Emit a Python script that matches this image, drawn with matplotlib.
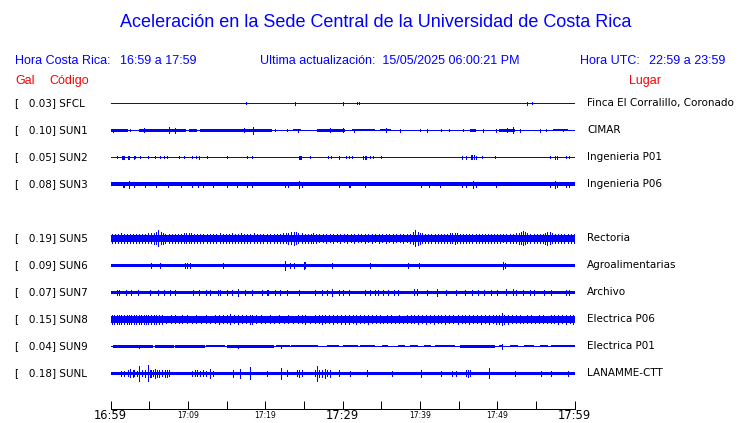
#!/usr/bin/env python
"""
Acceleration traces for the UCR Sede Central stations (one hour window).
"""

import matplotlib

matplotlib.use("Agg")
import matplotlib.pyplot as plt

W, H = 740, 423
BLUE = "#0000ff"
RED = "#ff0000"
ROW_PX = 27  # pixels between two station rows

TITLE = "Aceleración en la Sede Central de la Universidad de Costa Rica"
HORA_CR = "16:59 a 17:59"
HORA_UTC = "22:59 a 23:59"
ACTUALIZADO = "15/05/2025 06:00:21 PM"

# stations, top to bottom; slot 4 stays empty
CODES = ["SFCL", "SUN1", "SUN2", "SUN3", "SUN5", "SUN6", "SUN7", "SUN8", "SUN9", "SUNL"]
SLOTS = [0, 1, 2, 3, 5, 6, 7, 8, 9, 10]
GAL = [0.03, 0.10, 0.05, 0.08, 0.19, 0.09, 0.07, 0.15, 0.04, 0.18]
PLACES = [
    "Finca El Corralillo, Coronado",
    "CIMAR",
    "Ingenieria P01",
    "Ingenieria P06",
    "Rectoria",
    "Agroalimentarias",
    "Archivo",
    "Electrica P06",
    "Electrica P01",
    "LANAMME-CTT",
]

TICK_MIN = [0, 5, 10, 15, 20, 25, 30, 35, 40, 45, 50, 55, 60]
TICK_LABELS = ["16:59", "", "17:09", "", "17:19", "", "17:29", "", "17:39", "", "17:49", "", "17:59"]
TICK_BIG = [True, False, False, False, False, False, True, False, False, False, False, False, True]

# envelope of each trace: (start min, end min, half width px)
BODY = {
    "SFCL": [(0, 60, 0.5)],
    "SUN1": [
        (0, 2.2, 1.5), (2.2, 3.7, 0.5), (3.7, 9.8, 1.5), (9.8, 10.2, 0.5),
        (10.2, 11.2, 1.3), (11.2, 11.6, 0.5), (11.6, 20.9, 1.4), (20.9, 23.6, 0.5),
        (23.6, 24.6, 1.1), (24.6, 26.7, 0.5), (26.7, 30.3, 1.3), (30.3, 31.2, 0.5),
        (31.2, 34.2, 1.2), (34.2, 34.8, 0.5), (34.8, 36.3, 1.2), (36.3, 46.5, 0.5),
        (46.5, 47.3, 1.3), (47.3, 50.3, 0.5), (50.3, 52.3, 1.5), (52.3, 57.2, 0.5),
        (57.2, 59.1, 1.2), (59.1, 60, 0.5),
    ],
    "SUN2": [(0, 60, 0.5)],
    "SUN3": [(0, 60, 1.8)],
    "SUN5": [(0, 60, 3.8)],
    "SUN6": [(0, 60, 1.7)],
    "SUN7": [(0, 60, 1.8)],
    "SUN8": [(0, 60, 3.2)],
    "SUN9": [
        (0, 60, 0.5), (0.3, 5.5, 1.2), (5.7, 8.2, 1.2), (8.4, 12.2, 1.2),
        (12.4, 14.8, 1.1), (15.0, 21.2, 1.2), (21.4, 23.2, 1.1), (23.4, 26.8, 1.1),
        (28.0, 29.5, 1.1), (30.1, 32.0, 1.1), (32.3, 34.2, 1.1), (35.1, 35.9, 1.1),
        (37.2, 38.1, 1.1), (38.7, 39.8, 1.1), (40.6, 41.5, 1.1), (41.9, 44.5, 1.1),
        (45.2, 49.7, 1.2), (50.3, 50.8, 1.1), (51.6, 52.7, 1.1), (53.5, 54.8, 1.1),
        (55.5, 56.6, 1.1), (57.0, 60, 1.1),
    ],
    "SUNL": [(0, 60, 1.8)],
}

# isolated peaks: (minute, half height px)
PEAKS = {
    "SFCL": [(17.5, 1.0), (23.9, 1.5), (30.1, 1.5), (31.9, 1.2), (32.1, 1.2), (53.8, 1.5), (54.5, 1.0)],
    "SUN1": [
        (0.3, 1.6), (2.5, 1.2), (4.3, 2.0), (7.5, 3.0), (8.3, 2.5), (17.3, 2.0),
        (18.4, 3.3), (21.3, 1.2), (22.8, 1.2), (24.3, 1.5), (28.4, 2.0), (30.0, 2.0),
        (31.5, 1.5), (35.6, 2.0), (37.4, 1.5), (40.0, 1.2), (40.9, 1.4), (42.8, 1.2),
        (43.8, 1.2), (45.6, 1.2), (48.2, 1.4), (49.8, 1.4), (51.3, 2.0), (52.0, 3.0),
        (53.0, 1.4), (55.5, 1.4), (56.3, 1.2), (58.5, 1.2),
    ],
    "SUN2": [
        (0.86, 1.2), (1.5, 1.6), (1.6, 1.6), (1.7, 1.6), (2.3, 1.3), (2.45, 1.3),
        (3.0, 1.3), (3.2, 1.2), (3.8, 1.2), (4.8, 1.2), (5.7, 1.2), (6.45, 1.2),
        (6.9, 1.2), (7.3, 1.2), (8.9, 1.2), (9.5, 1.2), (10.5, 1.2), (11.0, 1.2),
        (11.5, 1.3), (12.5, 1.2), (15.0, 1.2), (17.6, 1.2), (18.3, 1.2), (24.4, 1.6),
        (24.5, 1.6), (24.6, 1.6), (25.8, 1.2), (28.1, 1.2), (28.5, 1.2), (29.5, 1.3),
        (30.5, 1.2), (30.9, 1.2), (31.2, 1.2), (32.7, 1.3), (32.9, 1.5), (33.1, 1.3),
        (33.5, 1.2), (34.0, 1.2), (35.0, 1.2), (45.5, 1.3), (46.0, 1.3), (46.6, 1.8),
        (46.8, 2.0), (47.0, 1.8), (47.3, 1.3), (48.0, 1.2), (49.7, 1.2), (56.8, 1.2),
        (57.5, 1.6), (57.7, 1.6), (58.9, 1.2), (59.3, 1.2),
    ],
    "SUN3": [
        (1.6, 2.6), (1.7, 2.6), (2.45, 3.3), (3.0, 2.6), (4.5, 2.4), (5.9, 2.4),
        (7.4, 2.4), (9.1, 2.4), (10.5, 2.4), (11.3, 2.4), (12.0, 2.4), (13.3, 2.3),
        (15.0, 2.3), (16.3, 2.4), (17.6, 2.6), (18.3, 2.6), (22.6, 2.3), (22.9, 2.3),
        (24.4, 3.5), (24.7, 2.6), (29.6, 2.4), (30.8, 2.6), (31.0, 2.6), (32.9, 2.4),
        (40.1, 2.3), (41.2, 2.3), (42.6, 2.3), (45.5, 2.4), (46.0, 2.4), (46.9, 3.3),
        (47.2, 2.7), (49.8, 2.4), (56.8, 2.4), (57.5, 3.3), (57.8, 2.6), (58.9, 2.4),
        (59.3, 2.4),
    ],
    "SUN5": [
        (0.2, 4.3), (0.6, 4.6), (1.0, 4.2), (1.3, 4.8), (1.7, 4.4), (2.1, 4.2),
        (2.5, 4.6), (2.9, 4.3), (3.3, 4.5), (3.7, 4.2), (4.1, 4.6), (4.5, 4.4),
        (4.9, 4.8), (5.3, 5.2), (5.6, 5.6), (5.9, 6.0), (6.2, 8.0), (6.5, 6.0),
        (6.8, 5.5), (7.1, 4.6), (7.5, 4.4), (7.9, 4.3), (8.3, 4.5), (8.7, 4.6),
        (9.1, 4.3), (9.5, 4.8), (9.8, 5.0), (10.1, 5.2), (10.4, 5.0), (10.8, 4.6),
        (11.2, 4.4), (11.6, 4.2), (12.0, 4.3), (12.5, 4.5), (12.9, 4.2), (13.3, 4.4),
        (13.7, 4.6), (14.1, 4.8), (14.5, 4.6), (14.9, 4.4), (15.3, 4.7), (15.7, 5.0),
        (16.1, 4.6), (16.5, 4.4), (16.9, 4.8), (17.3, 4.5), (17.7, 4.6), (18.1, 4.4),
        (18.5, 4.8), (18.9, 4.5), (19.3, 4.3), (19.7, 4.2), (20.2, 4.4), (20.6, 4.2),
        (21.1, 4.3), (21.5, 4.2), (21.9, 4.4), (22.3, 4.8), (22.7, 5.2), (23.0, 5.6),
        (23.4, 6.0), (23.7, 6.5), (24.0, 5.8), (24.3, 5.2), (24.7, 4.8), (25.1, 4.4),
        (25.5, 4.2), (25.9, 4.6), (26.2, 5.0), (26.6, 4.2), (27.0, 3.9), (27.5, 4.0),
        (27.9, 4.2), (28.4, 3.9), (28.8, 4.3), (29.3, 4.0), (29.7, 4.2), (30.2, 3.9),
        (30.6, 4.4), (31.1, 4.0), (31.5, 4.2), (32.0, 3.9), (32.4, 4.1), (32.9, 4.3),
        (33.3, 3.9), (33.8, 4.2), (34.2, 4.0), (34.7, 4.4), (35.1, 3.9), (35.6, 4.2),
        (36.0, 4.0), (36.5, 4.3), (36.9, 3.9), (37.4, 4.1), (37.8, 4.3), (38.3, 4.0),
        (38.7, 4.6), (39.1, 6.0), (39.4, 8.0), (39.7, 6.5), (40.0, 5.5), (40.3, 4.8),
        (40.7, 4.3), (41.1, 4.5), (41.5, 4.3), (41.9, 4.2), (42.3, 4.4), (42.7, 4.2),
        (43.1, 4.3), (43.5, 4.5), (43.9, 4.8), (44.2, 5.2), (44.5, 5.5), (44.8, 5.0),
        (45.2, 4.4), (45.6, 4.3), (46.0, 4.2), (46.4, 4.4), (46.8, 4.3), (47.2, 4.5),
        (47.6, 4.3), (48.0, 4.4), (48.4, 4.6), (48.8, 4.3), (49.2, 4.2), (49.6, 4.4),
        (50.0, 4.2), (50.4, 4.3), (50.8, 4.1), (51.2, 4.3), (51.6, 4.2), (52.0, 4.4),
        (52.4, 4.8), (52.8, 5.5), (53.1, 6.2), (53.3, 7.0), (53.6, 6.0), (53.9, 5.0),
        (54.3, 4.4), (54.7, 4.2), (55.1, 4.3), (55.5, 4.2), (55.9, 4.6), (56.2, 5.5),
        (56.5, 6.5), (56.8, 6.0), (57.1, 5.0), (57.5, 4.4), (57.9, 4.2), (58.3, 4.3),
        (58.7, 4.2), (59.1, 4.4), (59.5, 4.2), (59.9, 4.3),
    ],
    "SUN6": [
        (5.3, 2.5), (6.45, 2.4), (9.6, 2.4), (9.9, 2.6), (10.3, 2.4), (14.6, 2.3),
        (22.6, 4.5), (23.2, 2.5), (23.7, 2.5), (25.0, 3.5), (25.2, 3.0), (28.7, 2.2),
        (33.5, 2.2), (38.5, 2.6), (39.9, 2.6), (50.8, 3.5), (51.0, 2.8),
    ],
    "SUN7": [
        (0.86, 2.8), (1.1, 2.8), (2.0, 2.6), (2.7, 2.6), (3.6, 2.6), (5.1, 2.8),
        (6.2, 2.6), (6.9, 2.6), (7.7, 2.6), (8.4, 2.6), (10.7, 2.6), (11.4, 2.6),
        (12.3, 2.6), (12.9, 2.6), (13.9, 2.8), (14.2, 2.8), (15.1, 2.6), (15.7, 2.6),
        (16.5, 3.3), (17.4, 2.6), (18.3, 2.6), (19.6, 2.6), (20.2, 2.8), (20.4, 2.6),
        (21.3, 2.6), (21.9, 2.6), (22.8, 2.6), (24.4, 2.6), (26.5, 2.8), (27.3, 2.6),
        (28.0, 2.8), (28.7, 3.5), (29.5, 2.6), (30.1, 2.6), (30.8, 2.6), (32.9, 2.6),
        (33.5, 2.8), (34.2, 2.8), (34.6, 2.6), (35.3, 2.8), (35.9, 2.6), (36.6, 2.6),
        (37.2, 2.6), (39.2, 3.0), (39.6, 3.0), (40.9, 2.6), (42.2, 3.3), (43.4, 2.6),
        (44.7, 2.6), (45.8, 2.6), (46.7, 2.6), (47.5, 2.6), (48.3, 2.6), (49.2, 2.6),
        (50.0, 2.6), (51.2, 3.0), (52.0, 3.0), (52.4, 2.8), (53.3, 2.6), (54.2, 2.6),
        (54.8, 2.6), (56.1, 2.6), (57.0, 2.6), (58.9, 2.8), (59.3, 2.6),
    ],
    "SUN8": [
        (0.2, 4.2), (0.5, 4.6), (0.8, 4.3), (1.1, 4.8), (1.4, 4.4), (1.8, 4.5),
        (2.1, 4.2), (2.4, 4.7), (2.7, 4.4), (3.0, 4.3), (3.3, 4.6), (3.7, 4.8),
        (4.0, 4.3), (4.3, 4.5), (4.6, 4.2), (4.9, 4.8), (5.3, 4.4), (5.6, 4.3),
        (5.9, 4.5), (6.3, 4.2), (6.7, 4.4), (7.2, 3.8), (7.8, 3.9), (8.3, 4.0),
        (8.8, 3.8), (9.3, 3.9), (9.9, 4.0), (10.5, 3.8), (11.1, 4.0), (11.7, 3.8),
        (12.3, 3.9), (12.9, 3.8), (13.5, 4.0), (14.0, 4.2), (14.5, 3.9), (15.0, 4.0),
        (15.5, 5.0), (16.0, 4.0), (16.5, 4.2), (17.0, 4.0), (17.5, 4.1), (18.0, 4.2),
        (18.3, 4.8), (18.8, 4.0), (19.4, 3.9), (20.0, 3.8), (20.6, 3.9), (21.2, 3.8),
        (21.8, 4.0), (22.4, 3.8), (23.0, 4.0), (23.6, 3.8), (24.2, 4.0), (24.8, 3.9),
        (25.2, 4.2), (25.8, 3.8), (26.4, 3.9), (26.9, 4.0), (27.4, 4.2), (27.8, 4.0),
        (28.3, 3.9), (28.8, 4.2), (29.3, 4.0), (29.8, 4.3), (30.3, 4.8), (30.8, 4.2),
        (31.3, 4.0), (31.8, 4.2), (32.3, 3.9), (32.8, 4.0), (33.3, 4.2), (33.8, 3.9),
        (34.3, 4.0), (34.8, 3.9), (35.3, 3.8), (35.8, 3.9), (36.3, 4.0), (36.8, 3.8),
        (37.3, 3.9), (37.8, 3.8), (38.3, 4.0), (38.8, 3.9), (39.3, 4.0), (39.8, 4.2),
        (40.3, 4.0), (40.8, 4.2), (41.3, 3.9), (41.8, 4.2), (42.3, 4.0), (42.8, 3.9),
        (43.3, 4.2), (43.8, 3.9), (44.3, 4.0), (44.9, 4.2), (45.4, 3.9), (45.9, 4.0),
        (46.4, 4.2), (46.9, 3.9), (47.4, 4.0), (47.9, 4.2), (48.4, 4.0), (48.9, 4.2),
        (49.4, 4.0), (49.9, 4.3), (50.3, 4.5), (50.6, 6.0), (50.9, 4.8), (51.4, 4.4),
        (51.9, 4.0), (52.4, 3.9), (52.9, 4.0), (53.4, 3.8), (53.9, 3.9), (54.4, 4.0),
        (54.9, 3.8), (55.4, 3.9), (55.9, 4.0), (56.4, 3.8), (56.9, 3.9), (57.4, 4.0),
        (57.9, 4.2), (58.4, 4.0), (58.9, 4.3), (59.4, 4.0), (59.8, 4.2),
    ],
    "SUN9": [(3.7, 1.6), (16.5, 1.4), (22.0, 1.4), (50.6, 2.5)],
    "SUNL": [
        (1.4, 2.6), (1.8, 2.8), (2.2, 3.0), (2.5, 4.0), (2.9, 3.2), (3.1, 3.0),
        (3.4, 2.8), (3.7, 7.5), (4.1, 3.0), (4.4, 3.2), (4.9, 8.0), (5.1, 3.5),
        (5.3, 3.8), (5.5, 3.0), (5.7, 4.5), (6.0, 3.2), (6.3, 3.5), (6.6, 3.0),
        (7.0, 3.2), (7.3, 3.5), (7.6, 3.0), (10.5, 2.8), (10.9, 3.0), (11.2, 3.0),
        (11.6, 2.8), (12.0, 3.0), (12.4, 2.6), (12.9, 4.5), (13.3, 2.8), (15.9, 3.5),
        (16.7, 4.5), (18.0, 6.0), (20.3, 2.5), (22.0, 5.5), (22.8, 3.0), (24.1, 3.0),
        (24.4, 3.5), (24.7, 3.0), (26.4, 3.0), (26.7, 7.5), (27.0, 3.5), (27.3, 3.2),
        (27.7, 4.5), (28.0, 3.0), (28.4, 3.5), (29.5, 3.0), (31.0, 2.4), (33.2, 3.0),
        (36.4, 2.5), (40.1, 3.5), (42.8, 2.4), (44.1, 2.7), (44.7, 2.5), (46.0, 3.0),
        (46.2, 3.5), (46.5, 3.0), (49.0, 5.0), (52.3, 2.5), (55.7, 2.5), (56.9, 2.5),
        (59.1, 2.5),
    ],
}


def px_text(fig, x, y, s, **kw):
    # place text with pixel coordinates measured from the top left corner
    fig.text(x / W, 1 - y / H, s, **kw)


def main():
    fig = plt.figure(figsize=(W / 100, H / 100), dpi=100)
    fig.patch.set_facecolor("white")

    head = {"family": "Liberation Sans", "color": BLUE, "va": "center"}
    px_text(fig, 376, 22.5, TITLE, fontsize=13, ha="center", **head)
    px_text(fig, 15, 61, "Hora Costa Rica:", fontsize=9, **head)
    px_text(fig, 120, 61, HORA_CR, fontsize=9, **head)
    px_text(fig, 260, 61, "Ultima actualización:  " + ACTUALIZADO, fontsize=9, **head)
    px_text(fig, 580, 61, "Hora UTC:", fontsize=9, **head)
    px_text(fig, 725, 61, HORA_UTC, fontsize=9, ha="right", **head)
    red = dict(head, color=RED)
    px_text(fig, 15, 81, "Gal", fontsize=9, **red)
    px_text(fig, 49, 81, "Código", fontsize=9, **red)
    px_text(fig, 629, 81, "Lugar", fontsize=9, **red)

    # trace area: one slot of ROW_PX per station, slot 0 centred at y=103.3 px
    x0, x1 = 110.5, 574.5
    top = 103.3 - ROW_PX / 2
    n_slots = 11
    ax = fig.add_axes([x0 / W, 1 - (top + n_slots * ROW_PX) / H, (x1 - x0) / W, n_slots * ROW_PX / H])
    ax.set_xlim(0, 60)
    ax.set_ylim(n_slots - 0.5, -0.5)
    ax.axis("off")

    lw = 0.72  # one pixel
    for code, slot, gal, place in zip(CODES, SLOTS, GAL, PLACES):
        ax.hlines(slot, 0, 60, color=BLUE, lw=lw, antialiased=False)
        for t0, t1, half in BODY[code]:
            h = half / ROW_PX
            ax.fill_between([t0, t1], slot - h, slot + h, color=BLUE, lw=0, antialiased=False)
        ts = [p[0] for p in PEAKS[code]]
        hs = [p[1] / ROW_PX for p in PEAKS[code]]
        ax.vlines(ts, [slot - h for h in hs], [slot + h for h in hs], color=BLUE, lw=lw, antialiased=False)

        y = top + (slot + 0.5) * ROW_PX
        px_text(fig, 15, y, f"[   {gal:.2f}] {code}", fontsize=7.5, family="DejaVu Sans", va="center")
        px_text(fig, 587, y, place, fontsize=7.5, family="DejaVu Sans", va="center")

    # time axis under the traces, ticks pointing up
    tax = fig.add_axes([x0 / W, 1 - 409 / H, (x1 - x0) / W, 0.001])
    tax.set_xlim(0, 60)
    tax.patch.set_visible(False)
    for side in ["top", "left", "right"]:
        tax.spines[side].set_visible(False)
    tax.spines["bottom"].set_linewidth(lw)
    tax.set_yticks([])
    tax.set_xticks(TICK_MIN)
    tax.set_xticklabels(TICK_LABELS, family="DejaVu Sans")
    tax.tick_params(axis="x", direction="in", length=8 * lw, width=lw, pad=5)
    for label, big in zip(tax.get_xticklabels(), TICK_BIG):
        label.set_fontsize(8.3 if big else 5.5)
        label.set_va("center")

    fig.savefig("out.png", dpi=100)
    plt.close(fig)


if __name__ == "__main__":
    main()
